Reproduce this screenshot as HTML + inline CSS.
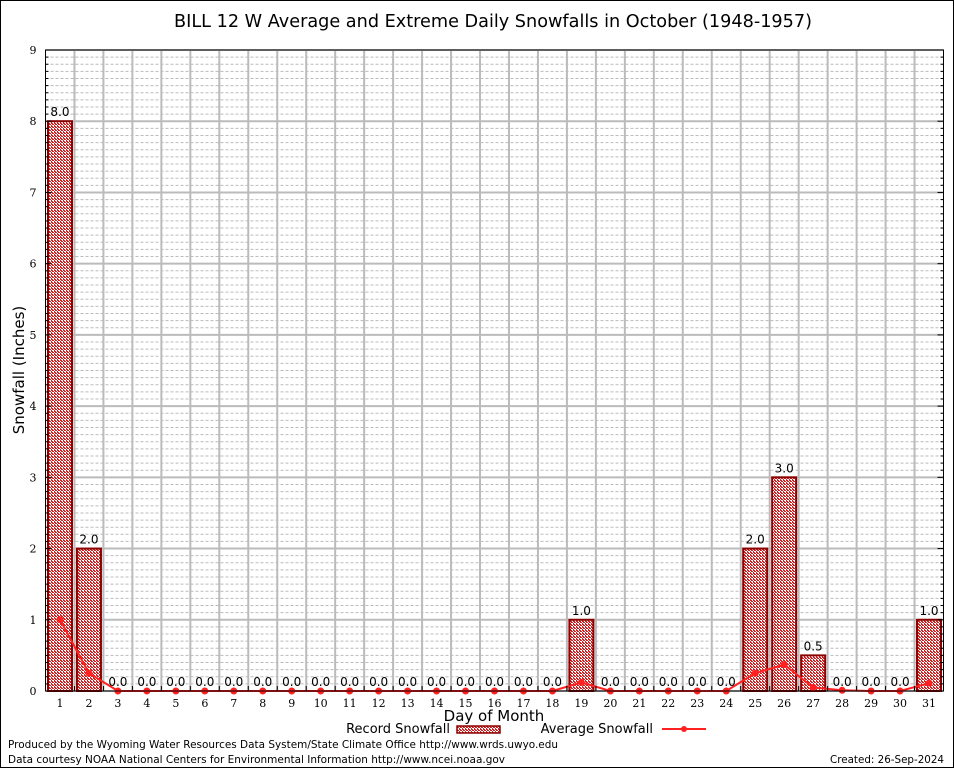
<!DOCTYPE html>
<html><head><meta charset="utf-8"><style>body{margin:0;background:#fff}svg{display:block}</style></head>
<body>
<svg id="chart" width="954" height="768" xmlns="http://www.w3.org/2000/svg" font-family="DejaVu Sans, Liberation Sans, sans-serif">
<defs>
<pattern id="dots" width="3" height="3" patternUnits="userSpaceOnUse">
<rect width="3" height="3" fill="#fff"/><rect width="2" height="1" fill="#d42020"/><rect x="1" y="1" width="2" height="1" fill="#d42020"/><rect x="0" y="2" width="1" height="1" fill="#d42020"/>
</pattern>
</defs>
<rect x="0.5" y="0.5" width="953" height="767" fill="#fff" stroke="#000"/>
<text x="493" y="27" font-size="17.5" text-anchor="middle" textLength="638" lengthAdjust="spacingAndGlyphs">BILL 12 W Average and Extreme Daily Snowfalls in October (1948-1957)</text>
<g id="grid"></g>
<g id="bars"></g>
<g id="line"></g>
<g id="axes"></g>
<text transform="translate(24,370) rotate(-90)" font-size="15" text-anchor="middle">Snowfall (Inches)</text>
<text x="494" y="721" font-size="15" text-anchor="middle">Day of Month</text>
<g>
<text x="450" y="733" font-size="13" text-anchor="end">Record Snowfall</text>
<rect x="457" y="726" width="43" height="7" fill="url(#dots)" stroke="#8b0000" stroke-width="1.5"/>
<text x="653" y="733" font-size="13" text-anchor="end">Average Snowfall</text>
<line x1="662" y1="729" x2="706" y2="729" stroke="#ff2020" stroke-width="2"/>
<circle cx="684" cy="729" r="3" fill="#ff2020"/>
</g>
<text x="8" y="748" font-size="11" textLength="550" lengthAdjust="spacingAndGlyphs">Produced by the Wyoming Water Resources Data System/State Climate Office http://www.wrds.uwyo.edu</text>
<text x="8" y="763" font-size="11" textLength="497" lengthAdjust="spacingAndGlyphs">Data courtesy NOAA National Centers for Environmental Information http://www.ncei.noaa.gov</text>
<text x="944" y="763" font-size="11" text-anchor="end" textLength="114" lengthAdjust="spacingAndGlyphs">Created:  26-Sep-2024</text>
</svg>
<script>
const days = [1,2,3,4,5,6,7,8,9,10,11,12,13,14,15,16,17,18,19,20,21,22,23,24,25,26,27,28,29,30,31];
const recordSnow = [8.0,2.0,0,0,0,0,0,0,0,0,0,0,0,0,0,0,0,0,1.0,0,0,0,0,0,2.0,3.0,0.5,0,0,0,1.0];
const avgSnow = [1.0,0.25,0,0,0,0,0,0,0,0,0,0,0,0,0,0,0,0,0.12,0,0,0,0,0,0.25,0.37,0.05,0.01,0,0,0.11];
const yTicks = [0,1,2,3,4,5,6,7,8,9];

const NS='http://www.w3.org/2000/svg';
const L=45.5,R=943.5,T=50,B=691,YMAX=9;
const step=(R-L)/days.length;
const xs=d=>L+(d-0.5)*step;
const ys=v=>B-v/YMAX*(B-T);
function mk(tag,attrs,parent,text){const e=document.createElementNS(NS,tag);for(const k in attrs)e.setAttribute(k,attrs[k]);if(text!==undefined)e.textContent=text;parent.appendChild(e);return e;}
const grid=document.getElementById('grid'),bars=document.getElementById('bars'),line=document.getElementById('line'),axes=document.getElementById('axes');
for(let i=1;i<YMAX*10;i++){if(i%10===0)continue;const y=ys(i/10);
const e=mk('line',{x1:L,x2:R,y1:y,y2:y,stroke:'#bbb','stroke-width':1,'stroke-dasharray':'3,2'},grid);

}
yTicks.forEach(t=>{const y=ys(t);
const e=mk('line',{x1:L,x2:R,y1:y,y2:y,stroke:'#bbb','stroke-width':2},grid);


const lb=mk('text',{x:L-9,y:y+4,'font-size':11,'text-anchor':'end','font-family':'DejaVu Serif, Liberation Serif, serif'},axes,String(t));

});
for(let i=1;i<days.length;i++){const x=L+i*step;
const e=mk('line',{x1:x,x2:x,y1:T,y2:B,stroke:'#bbb','stroke-width':2},grid);

}
for(let i=0;i<=YMAX*10;i++){const y=ys(i/10),len=i%10===0?6:3;
mk('line',{x1:L,x2:L+len,y1:y,y2:y,stroke:'#000'},axes);
mk('line',{x1:R,x2:R-len,y1:y,y2:y,stroke:'#000'},axes);}
days.forEach((d,i)=>{const x=xs(d),v=recordSnow[i];
if(v>0){const b=mk('rect',{x:x-12,y:ys(v),width:24,height:B-ys(v),fill:'url(#dots)',stroke:'#8b0000','stroke-width':2},bars);

}
const lb=mk('text',{x:x,y:ys(v)-5,'font-size':12,'text-anchor':'middle'},bars,v.toFixed(1));


const tl=mk('text',{x:x,y:B+16,'font-size':11,'text-anchor':'middle','font-family':'DejaVu Serif, Liberation Serif, serif'},axes,String(d));


mk('line',{x1:L+i*step,x2:L+i*step,y1:B,y2:B-5,stroke:'#000'},axes);});
const pl=mk('polyline',{points:days.map((d,i)=>xs(d)+','+ys(avgSnow[i])).join(' '),fill:'none',stroke:'#ff2020','stroke-width':2},line);


days.forEach((d,i)=>{const c=mk('circle',{cx:xs(d),cy:ys(avgSnow[i]),r:3.5,fill:'#ff2020'},line);

});
const ax=mk('rect',{x:L,y:T,width:R-L,height:B-T,fill:'none',stroke:'#000','stroke-width':1},axes);


</script>
</body></html>
